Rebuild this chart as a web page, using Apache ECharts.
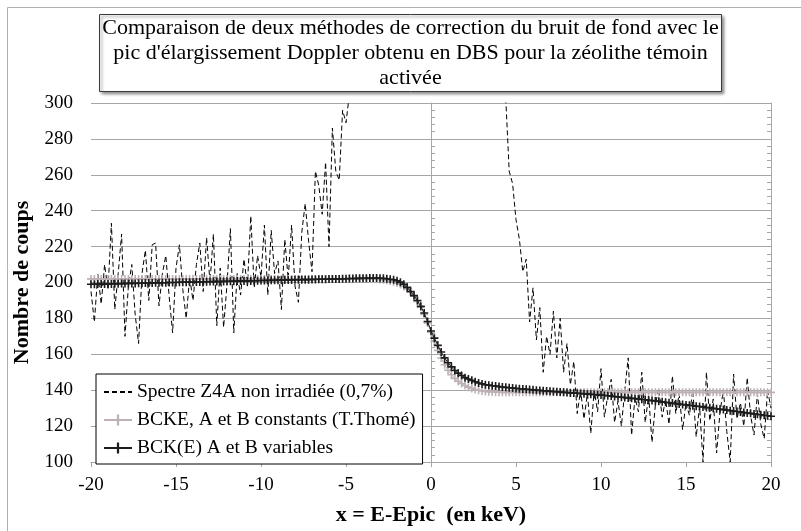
<!DOCTYPE html>
<html>
<head>
<meta charset="utf-8">
<script src="https://cdn.jsdelivr.net/npm/echarts@6/dist/echarts.min.js"></script>
<style>
  html, body { margin: 0; padding: 0; background: #fff; }
  #chart { width: 801px; height: 531px; }
</style>
</head>
<body>
<div id="chart"></div>
<script>
// Channel grid (keV relative to the annihilation peak)
const energyStart = -20;
const energyStep = 0.2;

// Measured DBS spectrum, Z4A non irradiée (0,7%)
const spectrumZ4A = [
  195,178,205,188,210,196,233,185,205,227,
  170,198,210,182,166,205,218,190,221,222,
  187,205,215,192,172,208,221,196,180,203,
  190,210,222,195,225,200,227,176,208,175,
  199,230,172,205,193,213,198,237,197,215,
  203,232,193,229,205,212,185,224,202,232,
  198,189,228,244,223,206,262,254,238,267,
  220,286,262,257,296,289,305,335,380,430,
  500,590,700,840,1010,1220,1480,1790,2160,2600,
  3100,3660,4270,4900,5530,6130,6670,7110,7440,7640,
  7700,7620,7400,7040,6570,6010,5390,4740,4090,3460,
  2880,2350,1890,1500,1170,910,710,560,450,380,
  340,318,302,262,255,235,224,206,213,178,
  197,168,186,150,170,160,184,158,180,150,
  166,143,156,127,140,124,138,116,140,128,
  152,125,137,146,122,134,120,140,158,115,
  136,128,150,122,137,111,132,141,125,135,
  121,148,127,138,118,133,126,140,114,131,
  100,150,123,135,105,128,140,117,100,149,
  124,133,120,147,126,115,138,121,113,140,
  130
];

// Background BCKE, A et B constants
const bckeConstant = [
  202.0,202.0,202.0,202.0,202.0,202.0,202.0,202.0,202.0,202.0,
  202.0,202.0,202.0,202.0,202.0,202.0,202.0,202.0,202.0,202.0,
  202.0,202.0,202.0,202.0,202.0,202.0,202.0,202.0,202.0,202.0,
  202.0,202.0,202.0,202.0,202.0,202.0,202.0,202.0,202.0,202.0,
  202.0,202.0,202.0,202.0,202.0,202.0,202.0,202.0,202.0,202.0,
  202.0,202.0,202.0,202.0,202.0,202.0,202.0,202.0,202.0,202.0,
  202.0,202.0,202.0,202.0,202.0,202.0,202.0,202.0,202.0,202.0,
  202.0,202.0,202.0,202.0,202.0,202.0,202.0,202.0,202.0,202.0,
  202.0,202.0,202.0,201.9,201.8,201.7,201.5,201.2,200.8,200.3,
  199.7,198.9,197.8,196.4,194.6,192.3,189.5,186.2,182.2,177.5,
  172.3,167.1,162.2,157.9,154.2,151.1,148.6,146.6,145.0,143.7,
  142.6,141.7,141.0,140.4,140.0,139.6,139.3,139.1,139.0,138.9,
  138.9,138.8,138.8,138.8,138.8,138.8,138.8,138.8,138.8,138.8,
  138.8,138.8,138.8,138.8,138.8,138.8,138.8,138.8,138.8,138.8,
  138.8,138.8,138.8,138.8,138.8,138.8,138.8,138.8,138.8,138.8,
  138.8,138.8,138.8,138.8,138.8,138.8,138.8,138.8,138.8,138.8,
  138.8,138.8,138.8,138.8,138.8,138.8,138.8,138.8,138.8,138.8,
  138.8,138.8,138.8,138.8,138.8,138.8,138.8,138.8,138.8,138.8,
  138.8,138.8,138.8,138.8,138.8,138.8,138.8,138.8,138.8,138.8,
  138.8,138.8,138.8,138.8,138.8,138.8,138.8,138.8,138.8,138.8,
  138.8
];

// Background BCK(E), A et B variables
const bckVariable = [
  199.0,199.0,199.1,199.1,199.2,199.2,199.2,199.3,199.3,199.4,
  199.4,199.5,199.5,199.5,199.6,199.6,199.7,199.7,199.7,199.8,
  199.8,199.9,199.9,200.0,200.0,200.0,200.1,200.1,200.2,200.2,
  200.2,200.3,200.3,200.4,200.4,200.5,200.5,200.5,200.6,200.6,
  200.7,200.7,200.7,200.8,200.8,200.9,200.9,200.9,201.0,201.0,
  201.1,201.1,201.2,201.2,201.2,201.3,201.3,201.4,201.4,201.4,
  201.5,201.5,201.6,201.6,201.6,201.7,201.7,201.8,201.8,201.8,
  201.9,201.9,202.0,202.0,202.1,202.1,202.2,202.2,202.3,202.3,
  202.4,202.4,202.5,202.5,202.5,202.4,202.3,202.1,201.8,201.5,
  201.0,200.2,199.0,197.3,195.0,192.7,190.0,186.7,183.0,178.3,
  173.0,169.0,165.0,161.3,158.0,155.3,153.0,151.0,149.5,148.2,
  147.0,146.2,145.5,144.7,144.0,143.5,143.0,142.8,142.5,142.3,
  142.0,141.8,141.6,141.4,141.2,141.0,140.8,140.7,140.5,140.4,
  140.2,140.0,139.9,139.7,139.6,139.4,139.3,139.1,139.0,138.8,
  138.7,138.5,138.4,138.3,138.1,138.0,137.8,137.7,137.6,137.4,
  137.3,137.1,136.9,136.7,136.5,136.3,136.1,135.9,135.7,135.5,
  135.3,135.1,134.9,134.7,134.4,134.2,134.0,133.8,133.5,133.3,
  133.0,132.8,132.5,132.3,132.0,131.8,131.6,131.3,131.1,130.9,
  130.7,130.4,130.2,129.9,129.7,129.4,129.2,128.9,128.6,128.4,
  128.1,127.9,127.6,127.3,127.1,126.8,126.6,126.3,126.0,125.8,
  125.5
];

const seriesNames = [
  'Spectre Z4A non irradiée (0,7%)',
  'BCKE, A et B constants (T.Thomé)',
  'BCK(E) A et B variables'
];

const titleLines = [
  'Comparaison de deux méthodes de correction du bruit de fond avec le',
  "pic d'élargissement Doppler obtenu en DBS pour la zéolithe témoin",
  'activée'
];

function toPoints(values) {
  return values.map((v, i) => [+(energyStart + i * energyStep).toFixed(1), v]);
}

const FONT = '"Liberation Serif", "Times New Roman", serif';
// "+" marker, arms about 1/5 of the symbol size
const crossPath = 'path://M4,0h2v4h4v2h-4v4h-2v-4h-4v-2h4z';
const GRID_GREY = '#a6a6a6';
const BCKE_GREY = '#bdb1b6';
const BCK_DARK = '#1c1c1c';

const chart = echarts.init(document.getElementById('chart'), null, { renderer: 'canvas' });

const zeroAxisBase = {
  type: 'value', min: 100, max: 300, interval: 20,
  axisLine: { show: true, onZero: true, lineStyle: { color: GRID_GREY, width: 1 } },
  axisLabel: { show: false },
  splitLine: { show: false },
  minorSplitLine: { show: false }
};

chart.setOption({
  animation: false,
  backgroundColor: '#fff',
  textStyle: { fontFamily: FONT },
  graphic: [
    {
      type: 'rect', silent: true, z: -10,
      shape: { x: 7.5, y: 7.5, width: 800, height: 530 },
      style: { fill: 'none', stroke: '#b0b0b0', lineWidth: 1 }
    },
    {
      type: 'group', silent: true, z: 20,
      children: [
        {
          type: 'rect',
          shape: { x: 99.5, y: 14.5, width: 622, height: 77 },
          style: {
            fill: '#fff', stroke: '#3a3a3a', lineWidth: 1,
            shadowColor: 'rgba(0,0,0,0.45)', shadowBlur: 3, shadowOffsetX: 2, shadowOffsetY: 2
          }
        },
        {
          type: 'text',
          style: {
            x: 410.5, y: 53,
            text: titleLines.join('\n'),
            fontFamily: FONT, fontSize: 22, lineHeight: 25,
            fill: '#000', textAlign: 'center', textVerticalAlign: 'middle', align: 'center', verticalAlign: 'middle'
          }
        }
      ]
    }
  ],
  grid: { left: 91, top: 103, width: 680, height: 367, containLabel: false },
  legend: {
    orient: 'vertical',
    left: 96, top: 374,
    padding: [8, 7, 6, 7],
    itemGap: 8,
    itemWidth: 28, itemHeight: 14,
    borderColor: '#000', borderWidth: 1,
    backgroundColor: '#fff',
    z: 10,
    textStyle: { fontFamily: FONT, fontSize: 19.5, color: '#000' },
    data: [
      { name: seriesNames[0], itemStyle: { opacity: 0 } },
      { name: seriesNames[1] },
      { name: seriesNames[2] }
    ]
  },
  xAxis: {
    type: 'value', min: -20, max: 20, interval: 5,
    name: 'x = E-Epic  (en keV)',
    nameLocation: 'middle', nameGap: 42,
    nameTextStyle: { fontFamily: FONT, fontSize: 22, fontWeight: 'bold', color: '#000' },
    axisLine: { show: true, onZero: false, lineStyle: { color: GRID_GREY, width: 1 } },
    axisTick: { show: true, inside: false, length: 5, lineStyle: { color: GRID_GREY } },
    axisLabel: { fontFamily: FONT, fontSize: 19, color: '#000', margin: 14 },
    splitLine: { show: false }
  },
  yAxis: [
    {
      type: 'value', min: 100, max: 300, interval: 20,
      name: 'Nombre de coups',
      nameLocation: 'middle', nameGap: 57, nameRotate: 90,
      nameTextStyle: { fontFamily: FONT, fontSize: 22, fontWeight: 'bold', color: '#000' },
      axisLine: { show: false, onZero: false },
      axisTick: { show: false },
      axisLabel: { fontFamily: FONT, fontSize: 19, color: '#000', margin: 18 },
      splitLine: { show: true, lineStyle: { color: GRID_GREY, width: 1 } }
    },
    Object.assign({}, zeroAxisBase, {
      axisTick: { show: true, inside: false, length: 4, lineStyle: { color: GRID_GREY } },
      minorTick: { show: true, splitNumber: 5, length: 4, lineStyle: { color: GRID_GREY } }
    }),
    Object.assign({}, zeroAxisBase, {
      axisTick: { show: true, inside: true, length: 4, lineStyle: { color: GRID_GREY } },
      minorTick: { show: true, splitNumber: 5, length: 4, lineStyle: { color: GRID_GREY } }
    })
  ],
  series: [
    {
      name: seriesNames[0],
      type: 'line',
      data: toPoints(spectrumZ4A),
      symbol: 'none',
      clip: true,
      lineStyle: { color: '#000', width: 1, type: [5, 3] },
      itemStyle: { color: '#000' },
      z: 2
    },
    {
      name: seriesNames[1],
      type: 'line',
      data: toPoints(bckeConstant),
      symbol: crossPath, symbolSize: 8,
      showSymbol: true, showAllSymbol: true,
      clip: true,
      lineStyle: { color: BCKE_GREY, width: 1 },
      itemStyle: { color: BCKE_GREY },
      z: 3
    },
    {
      name: seriesNames[2],
      type: 'line',
      data: toPoints(bckVariable),
      symbol: crossPath, symbolSize: 8,
      showSymbol: true, showAllSymbol: true,
      clip: true,
      lineStyle: { color: BCK_DARK, width: 1 },
      itemStyle: { color: BCK_DARK },
      z: 4
    }
  ]
});
</script>
</body>
</html>
